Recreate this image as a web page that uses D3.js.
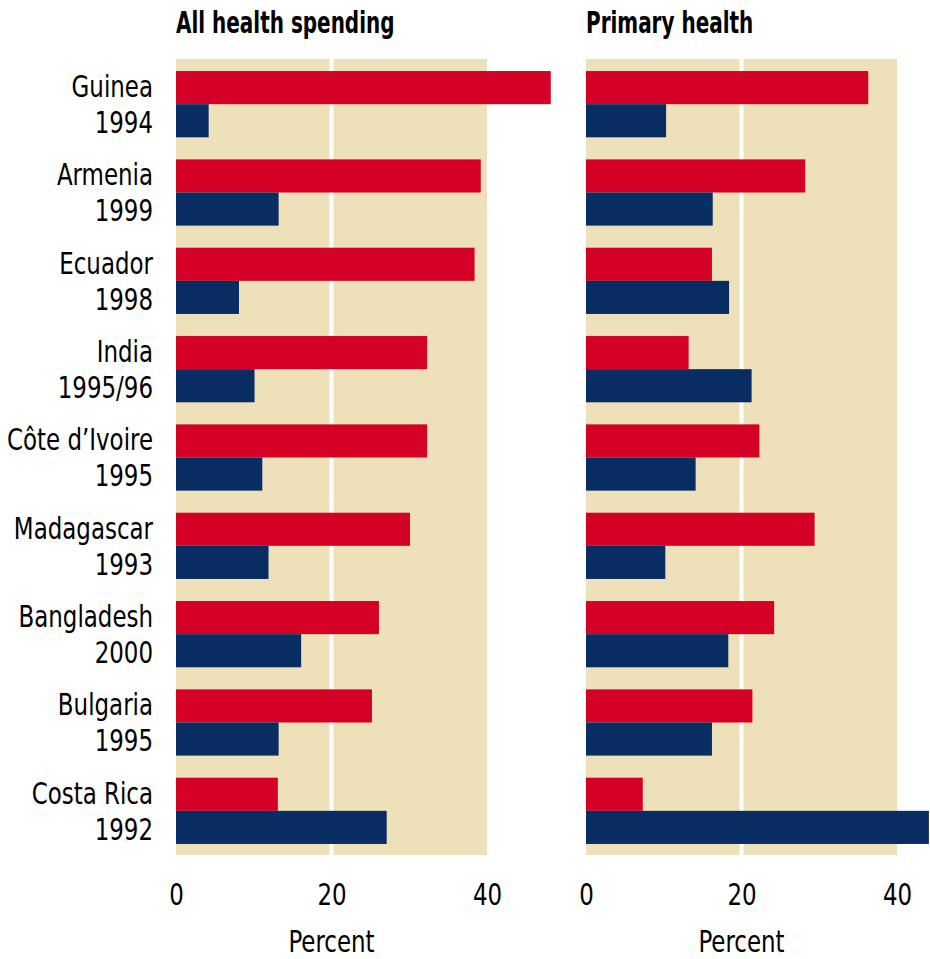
<!DOCTYPE html>
<html lang="en">
    <head>
        <meta charset="utf-8">
        <title>Health spending benefit incidence</title>
        <script type="text/javascript" src="https://cdn.jsdelivr.net/npm/d3@7/dist/d3.min.js"></script>
        <style>
            body { margin: 0; background: #fff; }
            text { font-family: "DejaVu Sans Condensed", "DejaVu Sans", sans-serif; }
        </style>
    </head>
    <body>
        <div class="chart"></div>
        <script type="text/javascript">
            // countries and survey years
            var countries = ["Guinea", "Armenia", "Ecuador", "India", "Côte d\u2019Ivoire", "Madagascar", "Bangladesh", "Bulgaria", "Costa Rica"];
            var years = ["1994", "1999", "1998", "1995/96", "1995", "1993", "2000", "1995", "1992"];
            // share (%) of public spending, red = richest, blue = poorest
            var allRich = [48.2, 39.2, 38.4, 32.3, 32.3, 30.1, 26.1, 25.2, 13.1];
            var allPoor = [4.2, 13.2, 8.1, 10.1, 11.1, 11.9, 16.1, 13.2, 27.1];
            var primRich = [36.3, 28.2, 16.2, 13.2, 22.3, 29.4, 24.2, 21.4, 7.3];
            var primPoor = [10.3, 16.3, 18.4, 21.3, 14.1, 10.2, 18.3, 16.2, 44.1];
            var ticks = [0, 20, 40];
            var titles = ["All health spending", "Primary health"];

            var w = 930, h = 959;
            var plotTop = 59, plotBottom = 855;
            var red = "#d40026", blue = "#082d63", beige = "#eee1b9";

            // squeeze text horizontally, the original uses a condensed face
            function condense(sel, k) {
                sel.each(function() {
                    var len = this.getComputedTextLength();
                    d3.select(this).attr("textLength", len * k).attr("lengthAdjust", "spacingAndGlyphs");
                });
            }

            var svg = d3.select("div.chart").append("svg")
                        .attr("width", w)
                        .attr("height", h);

            var y = d3.scaleBand()
                      .domain(countries)
                      .range([plotTop + 1, plotBottom])
                      .paddingInner(0.25)
                      .paddingOuter(0.125);

            var panels = [
                {title: titles[0], x0: 176, rich: allRich, poor: allPoor},
                {title: titles[1], x0: 586, rich: primRich, poor: primPoor}
            ];

            panels.forEach(function(p) {
                var x = d3.scaleLinear().domain([0, 40]).range([p.x0, p.x0 + 311]);
                var g = svg.append("g");

                // beige background
                g.append("rect")
                 .attr("x", x(0)).attr("y", plotTop)
                 .attr("width", x(40) - x(0)).attr("height", plotBottom - plotTop)
                 .attr("fill", beige);

                // white gridline at 20
                g.append("line")
                 .attr("x1", x(20)).attr("x2", x(20))
                 .attr("y1", plotTop).attr("y2", plotBottom)
                 .attr("stroke", "#fff").attr("stroke-width", 4);

                var bh = y.bandwidth() / 2;
                g.selectAll("rect.rich")
                 .data(p.rich).enter().append("rect")
                 .attr("class", "rich")
                 .attr("x", x(0))
                 .attr("y", function(d, i) { return y(countries[i]); })
                 .attr("width", function(d) { return x(d) - x(0); })
                 .attr("height", bh)
                 .attr("fill", red);

                g.selectAll("rect.poor")
                 .data(p.poor).enter().append("rect")
                 .attr("class", "poor")
                 .attr("x", x(0))
                 .attr("y", function(d, i) { return y(countries[i]) + bh; })
                 .attr("width", function(d) { return x(d) - x(0); })
                 .attr("height", bh)
                 .attr("fill", blue);

                // panel title
                g.append("text")
                 .attr("x", x(0)).attr("y", 33)
                 .attr("font-size", "30px").attr("font-weight", "bold")
                 .attr("fill", "#000")
                 .text(p.title)
                 .call(condense, 0.74);

                // x axis, labels only
                var axis = d3.axisBottom(x).tickValues(ticks).tickSize(0).tickPadding(0);
                var ag = g.append("g")
                          .attr("transform", "translate(0,883)")
                          .call(axis);
                ag.select(".domain").remove();
                ag.selectAll("text")
                  .attr("dy", null).attr("y", 22)
                  .attr("font-size", "30px")
                  .attr("font-family", null)
                  .attr("fill", "#000")
                  .call(condense, 0.85);

                g.append("text")
                 .attr("x", x(20)).attr("y", 952)
                 .attr("text-anchor", "middle")
                 .attr("font-size", "30px")
                 .attr("fill", "#000")
                 .text("Percent")
                 .call(condense, 0.85);
            });

            // country and year labels
            var lab = svg.append("g");
            lab.selectAll("text.country")
               .data(countries).enter().append("text")
               .attr("class", "country")
               .attr("x", 153)
               .attr("y", function(d) { return y(d) + 26; })
               .attr("text-anchor", "end")
               .attr("font-size", "30px")
               .text(function(d) { return d; })
               .call(condense, 0.85);
            lab.selectAll("text.year")
               .data(years).enter().append("text")
               .attr("class", "year")
               .attr("x", 153)
               .attr("y", function(d, i) { return y(countries[i]) + 62; })
               .attr("text-anchor", "end")
               .attr("font-size", "30px")
               .text(function(d) { return d; })
               .call(condense, 0.85);
        </script>
    </body>
</html>
